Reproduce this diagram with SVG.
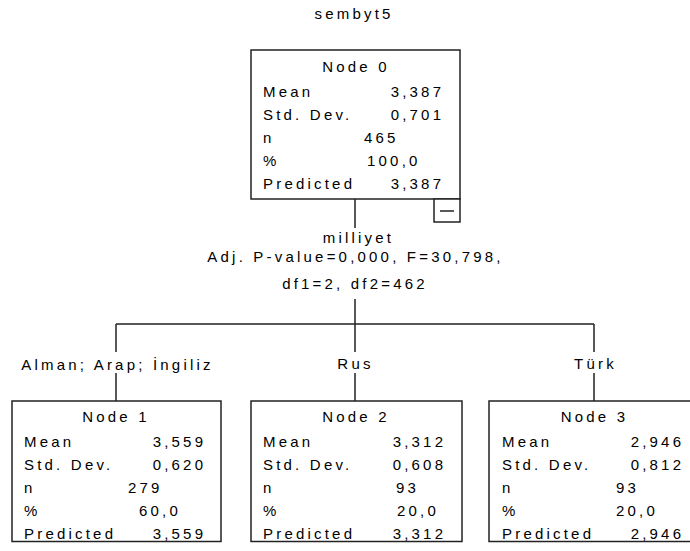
<svg xmlns="http://www.w3.org/2000/svg" width="690" height="551" viewBox="0 0 690 551">
<style>
text{font-family:"Liberation Sans",Arial,sans-serif;font-size:15px;fill:#000;letter-spacing:3.2px}
.m{text-anchor:middle}
.e{text-anchor:end}
.box{fill:#fff;stroke:#222;stroke-width:1.5}
.ln{stroke:#222;stroke-width:1.5;fill:none}
</style>
<rect width="690" height="551" fill="#fff"/>
<text class="m" x="354" y="19">sembyt5</text>
<g id="connectors">
<path class="ln" d="M355,199V228M355,299V352M116,324H594M116,324V352M594,324V352M116,373V401M355,373V401M594,373V401"/>
</g>
<g id="split">
<text class="m" x="358.5" y="243">milliyet</text>
<text class="m" x="355.5" y="262">Adj. P-value=0,000, F=30,798,</text>
<text class="m" x="355" y="289">df1=2, df2=462</text>
</g>
<g id="node0">
<rect class="box" x="251" y="50" width="209" height="149"/>
<text class="m" x="356" y="72">Node 0</text>
<text x="263" y="96.5">Mean</text><text class="e" x="444.2" y="96.5">3,387</text>
<text x="263" y="119.5">Std. Dev.</text><text class="e" x="444.2" y="119.5">0,701</text>
<text x="263" y="142.5">n</text><text x="364" y="142.5">465</text>
<text x="263" y="165.5">%</text><text x="367" y="165.5">100,0</text>
<text x="263" y="188.5">Predicted</text><text class="e" x="444.2" y="188.5">3,387</text>
<rect class="box" x="434" y="199" width="26" height="23"/>
<path class="ln" d="M440,211H454"/>
</g>
<g id="labels">
<text class="m" x="117.5" y="370">Alman; Arap; İngiliz</text>
<text class="m" x="355.5" y="369">Rus</text>
<text class="m" x="595.5" y="369">Türk</text>
</g>
<g id="node1">
<rect class="box" x="12" y="401" width="209" height="140.5"/>
<text class="m" x="116" y="422">Node 1</text>
<text x="24" y="447">Mean</text><text class="e" x="206.2" y="447">3,559</text>
<text x="24" y="470">Std. Dev.</text><text class="e" x="206.2" y="470">0,620</text>
<text x="24" y="492.5">n</text><text x="128" y="492.5">279</text>
<text x="24" y="515.5">%</text><text x="139" y="515.5">60,0</text>
<text x="24" y="538.5">Predicted</text><text class="e" x="206.2" y="538.5">3,559</text>
</g>
<g id="node2">
<rect class="box" x="251" y="401" width="211" height="140.5"/>
<text class="m" x="356" y="422">Node 2</text>
<text x="263" y="447">Mean</text><text class="e" x="446.2" y="447">3,312</text>
<text x="263" y="470">Std. Dev.</text><text class="e" x="446.2" y="470">0,608</text>
<text x="263" y="492.5">n</text><text x="396" y="492.5">93</text>
<text x="263" y="515.5">%</text><text x="397" y="515.5">20,0</text>
<text x="263" y="538.5">Predicted</text><text class="e" x="446.2" y="538.5">3,312</text>
</g>
<g id="node3">
<rect class="box" x="489" y="401" width="211" height="140.5"/>
<text class="m" x="594.5" y="422">Node 3</text>
<text x="502" y="447">Mean</text><text class="e" x="684.2" y="447">2,946</text>
<text x="502" y="470">Std. Dev.</text><text class="e" x="684.2" y="470">0,812</text>
<text x="502" y="492.5">n</text><text x="616" y="492.5">93</text>
<text x="502" y="515.5">%</text><text x="616" y="515.5">20,0</text>
<text x="502" y="538.5">Predicted</text><text class="e" x="684.2" y="538.5">2,946</text>
</g>
</svg>
